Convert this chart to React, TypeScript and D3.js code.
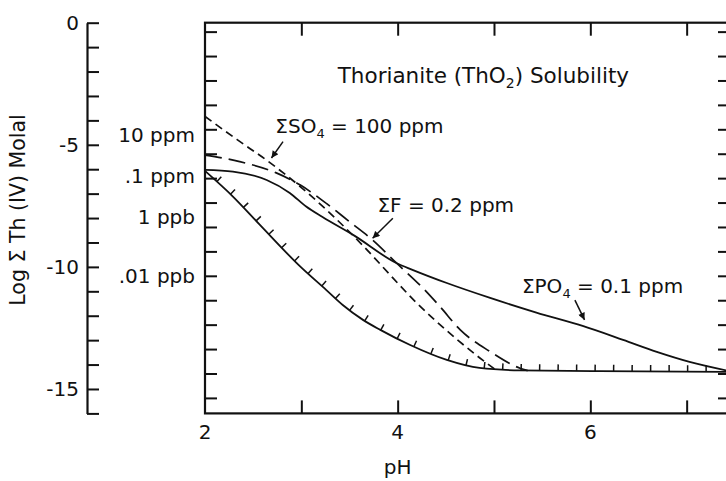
import React, { useRef, useEffect } from "react";
import * as d3 from "d3";

// curves: [pH, log molal]
const baseCurve = [
  [2.0, -6.07], [2.29, -7.12], [2.57, -8.28], [2.99, -9.99], [3.26, -10.95],
  [3.43, -11.56], [3.64, -12.17], [3.82, -12.58], [4.13, -13.2], [4.51, -13.81],
  [4.85, -14.14], [5.27, -14.24], [6.1, -14.27], [7.45, -14.3],
];
const po4Curve = [
  [2.0, -6.03], [2.29, -6.1], [2.64, -6.44], [2.88, -6.97], [3.05, -7.53],
  [3.22, -7.96], [3.55, -8.72], [3.99, -9.85], [4.16, -10.13], [4.51, -10.66],
  [4.96, -11.27], [5.44, -11.87], [5.92, -12.42], [6.34, -12.99], [6.69, -13.48],
  [7.03, -13.89], [7.45, -14.27],
];
const so4Curve = [
  [2.0, -3.84], [2.33, -4.78], [2.67, -5.72], [3.0, -6.75], [3.33, -7.92],
  [3.64, -9.13], [3.95, -10.45], [4.16, -11.33], [4.37, -12.12], [4.61, -12.95],
  [4.85, -13.72], [5.03, -14.25],
];
const fCurve = [
  [2.0, -5.42], [2.36, -5.69], [2.74, -6.15], [2.99, -6.65], [3.26, -7.4],
  [3.5, -8.15], [3.74, -8.9], [3.99, -9.85], [4.26, -10.86], [4.44, -11.63],
  [4.65, -12.58], [4.96, -13.47], [5.27, -14.15], [5.35, -14.25],
];

const phDomain = [2, 7.45];
const logDomain = [0, -16];
const phTicks = [3, 4, 5, 6, 7];
const phLabels = [2, 4, 6];
const molalTicks = d3.range(0, -17, -1);
const molalLabels = [0, -5, -10, -15];
// ppm of Th, decades
const ppmTicks = [1e5, 1e4, 1e3, 1e2, 10, 1, 0.1, 1e-2, 1e-3, 1e-4, 1e-5, 1e-6, 1e-7, 1e-8, 1e-9, 1e-10];
const ppmLabels = ["10 ppm", ".1 ppm", "1 ppb", ".01 ppb"];
const ppmLabelLogs = [-4.6, -6.28, -7.95, -10.37];

const toLogMolal = (ppm) => Math.log10(ppm / 1000 / 232.04);

const FONT = "DejaVu Sans, sans-serif";

const App = () => {
  const svgRef = useRef();

  useEffect(() => {
    const svg = d3.select(svgRef.current);
    svg.selectAll("*").remove();

    const x = d3.scaleLinear().domain(phDomain).range([205, 730]);
    const y = d3.scaleLinear().domain(logDomain).range([22.7, 413.4]);

    svg.append("defs").append("marker")
      .attr("id", "arrow")
      .attr("viewBox", "0 0 10 10")
      .attr("refX", 10).attr("refY", 5)
      .attr("markerWidth", 9).attr("markerHeight", 7)
      .attr("markerUnits", "userSpaceOnUse")
      .attr("orient", "auto")
      .append("path").attr("d", "M0,0 L10,5 L0,10 Z").attr("fill", "#111");

    // standalone log molal axis on the left
    const leftAxis = svg.append("g").attr("transform", "translate(87,0)")
      .call(d3.axisRight(y).tickValues(molalTicks).tickSize(12).tickSizeOuter(0).tickFormat(() => ""));
    leftAxis.selectAll("line").attr("stroke", "#111").attr("stroke-width", 2);
    leftAxis.select(".domain").attr("stroke", "#111").attr("stroke-width", 2.2);

    svg.append("g").selectAll("text").data(molalLabels).join("text")
      .attr("x", 79).attr("y", (d) => y(d))
      .attr("text-anchor", "end").attr("dominant-baseline", "central")
      .attr("font-family", FONT).attr("font-size", 20).attr("fill", "#111")
      .text((d) => String(d));

    svg.append("text")
      .attr("transform", "translate(18,210) rotate(-90)")
      .attr("text-anchor", "middle").attr("dominant-baseline", "central")
      .attr("font-family", FONT).attr("font-size", 20.5).attr("fill", "#111")
      .text("Log \u03A3 Th (IV) Molal");

    // frame + ticks
    const axes = [
      { ax: d3.axisBottom(x).tickValues(phTicks).tickSize(13), t: `translate(0,${y(0)})` },
      { ax: d3.axisTop(x).tickValues(phTicks).tickSize(13), t: `translate(0,${y(-16)})` },
      { ax: d3.axisRight(y).tickValues(ppmTicks.map(toLogMolal)).tickSize(12), t: `translate(${x(2)},0)` },
      { ax: d3.axisLeft(y).tickValues(ppmTicks.map(toLogMolal)).tickSize(12), t: `translate(${x(7.45)},0)` },
    ];
    axes.forEach(({ ax, t }) => {
      const g = svg.append("g").attr("transform", t).call(ax.tickFormat(() => ""));
      g.select(".domain").remove();
      g.selectAll("line").attr("stroke", "#111").attr("stroke-width", 2);
    });
    svg.append("rect")
      .attr("x", x(2)).attr("y", y(0))
      .attr("width", x(7.45) - x(2)).attr("height", y(-16) - y(0))
      .attr("fill", "none").attr("stroke", "#111").attr("stroke-width", 2.2);

    svg.append("g").selectAll("text").data(phLabels).join("text")
      .attr("x", (d) => x(d)).attr("y", 432)
      .attr("text-anchor", "middle").attr("dominant-baseline", "central")
      .attr("font-family", FONT).attr("font-size", 20).attr("fill", "#111")
      .text((d) => String(d));
    svg.append("text")
      .attr("x", x(4)).attr("y", 467)
      .attr("text-anchor", "middle").attr("dominant-baseline", "central")
      .attr("font-family", FONT).attr("font-size", 20).attr("fill", "#111")
      .text("pH");

    svg.append("g").selectAll("text").data(ppmLabels).join("text")
      .attr("x", 195).attr("y", (d, i) => y(ppmLabelLogs[i]))
      .attr("text-anchor", "end").attr("dominant-baseline", "central")
      .attr("font-family", FONT).attr("font-size", 20).attr("fill", "#111")
      .text((d) => d);

    // curves
    const lineGen = d3.line().x((d) => x(d[0])).y((d) => y(d[1])).curve(d3.curveMonotoneX);
    const basePath = svg.append("path").datum(baseCurve)
      .attr("d", lineGen).attr("fill", "none").attr("stroke", "#111").attr("stroke-width", 1.8);
    svg.append("path").datum(po4Curve)
      .attr("d", lineGen).attr("fill", "none").attr("stroke", "#111").attr("stroke-width", 1.8);
    svg.append("path").datum(so4Curve)
      .attr("d", lineGen).attr("fill", "none").attr("stroke", "#111").attr("stroke-width", 1.7)
      .attr("stroke-dasharray", "8,5");
    svg.append("path").datum(fCurve)
      .attr("d", lineGen).attr("fill", "none").attr("stroke", "#111").attr("stroke-width", 1.7)
      .attr("stroke-dasharray", "17,7");

    // hatch ticks along thorianite boundary
    const node = basePath.node();
    const total = node.getTotalLength();
    const hatch = [];
    for (let l = 16; l < total - 20; l += 18.5) {
      const p0 = node.getPointAtLength(l - 1);
      const p1 = node.getPointAtLength(l + 1);
      const dx = p1.x - p0.x, dy = p1.y - p0.y;
      const n = Math.hypot(dx, dy) || 1;
      const p = node.getPointAtLength(l);
      hatch.push({ x: p.x, y: p.y, nx: dy / n, ny: -dx / n });
    }
    svg.append("g").selectAll("line").data(hatch).join("line")
      .attr("x1", (d) => d.x).attr("y1", (d) => d.y)
      .attr("x2", (d) => d.x + d.nx * 6.5).attr("y2", (d) => d.y + d.ny * 6.5)
      .attr("stroke", "#111").attr("stroke-width", 1.5);

    // title
    const title = svg.append("text")
      .attr("x", x(4.89)).attr("y", y(-2.47))
      .attr("text-anchor", "middle")
      .attr("font-family", FONT).attr("font-size", 21.5).attr("fill", "#111");
    title.append("tspan").text("Thorianite (ThO");
    title.append("tspan").attr("font-size", "0.65em").attr("dy", 5).text("2");
    title.append("tspan").attr("dy", -5).text(") Solubility");

    // annotations
    const notes = [
      { pre: "\u03A3SO", sub: "4", post: " = 100 ppm", at: [2.73, -4.52], from: [2.81, -4.87], to: [2.69, -5.54] },
      { pre: "\u03A3F = 0.2 ppm", sub: "", post: "", at: [3.79, -7.75], from: [3.95, -8.01], to: [3.74, -8.83] },
      { pre: "\u03A3PO", sub: "4", post: " = 0.1 ppm", at: [5.29, -11.07], from: [5.84, -11.36], to: [5.94, -12.17] },
    ];
    notes.forEach((nt) => {
      const t = svg.append("text")
        .attr("x", x(nt.at[0])).attr("y", y(nt.at[1]))
        .attr("font-family", FONT).attr("font-size", 20).attr("fill", "#111");
      t.append("tspan").text(nt.pre);
      if (nt.sub) {
        t.append("tspan").attr("font-size", "0.65em").attr("dy", 5).text(nt.sub);
        t.append("tspan").attr("dy", -5).text(nt.post);
      }
      svg.append("line")
        .attr("x1", x(nt.from[0])).attr("y1", y(nt.from[1]))
        .attr("x2", x(nt.to[0])).attr("y2", y(nt.to[1]))
        .attr("stroke", "#111").attr("stroke-width", 1.5)
        .attr("marker-end", "url(#arrow)");
    });
  }, []);

  return (
    <svg
      ref={svgRef}
      width={726}
      height={481}
      style={{ position: "absolute", left: 0, top: 0, background: "#fff" }}
    />
  );
};

export default App;
